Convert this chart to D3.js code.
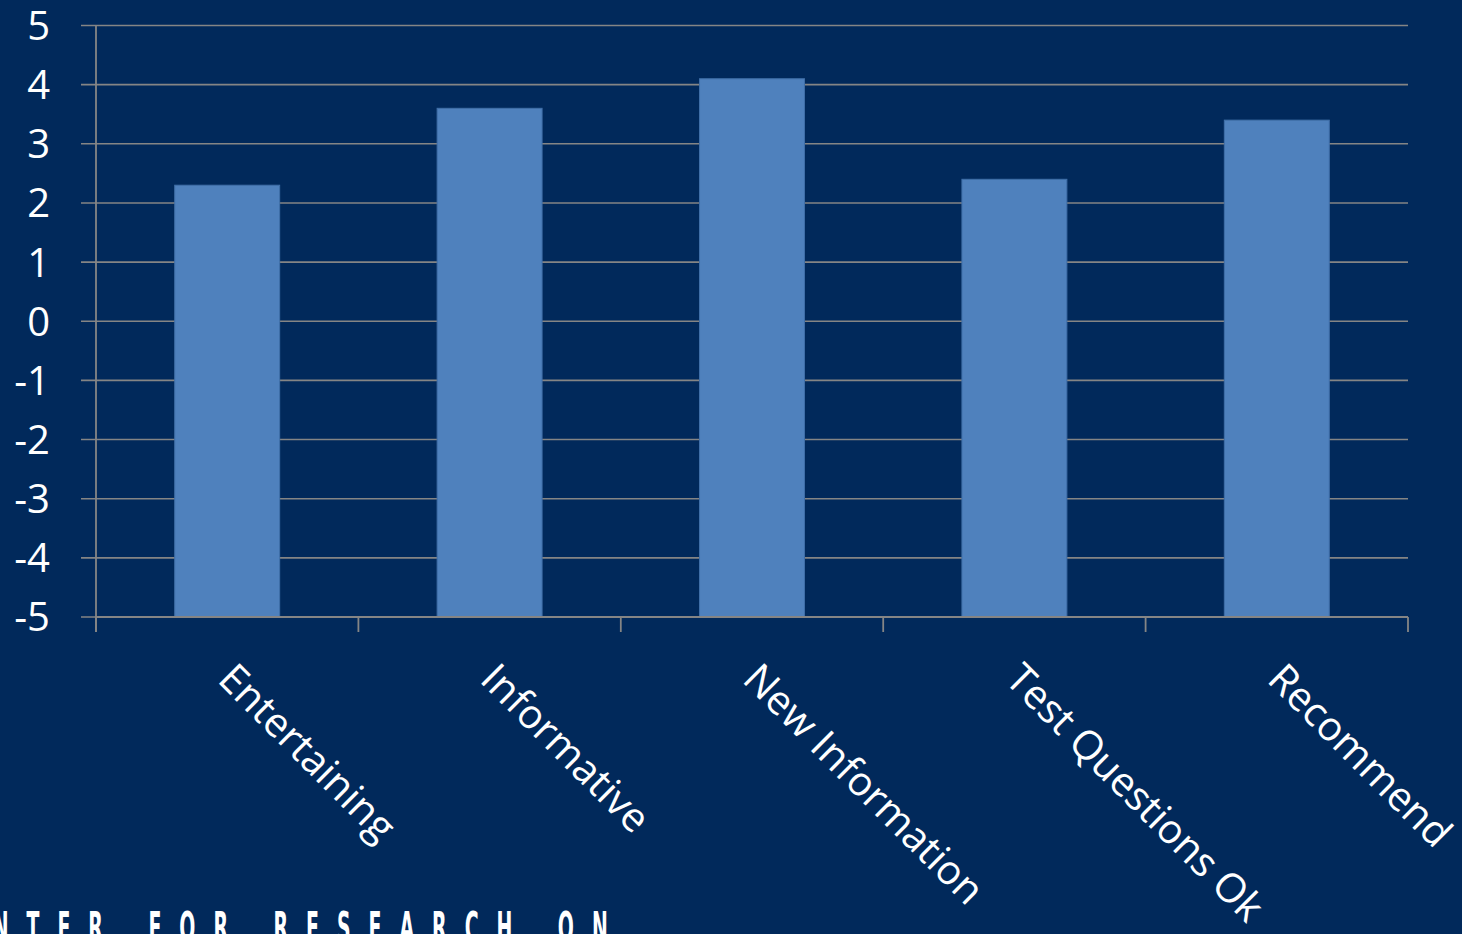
<!DOCTYPE html>
<html>
<head>
<meta charset="utf-8">
<script src="https://cdn.jsdelivr.net/npm/d3@7"></script>
<style>
  html, body { margin: 0; padding: 0; background: #01295b; overflow: hidden; }
  svg { display: block; }
</style>
</head>
<body>
<svg id="chart" width="1462" height="934"></svg>
<script>
const categories = ["Entertaining", "Informative", "New Information", "Test Questions Ok", "Recommend"];
const values = [2.3, 3.6, 4.1, 2.4, 3.4];
const yTicks = [5, 4, 3, 2, 1, 0, -1, -2, -3, -4, -5];
const footerText = "CENTER FOR RESEARCH ON";

const svg = d3.select("#chart");
const W = 1462, H = 934;
const m = { left: 96, right: 54, top: 25.5, bottom: 317 };

svg.append("rect").attr("width", W).attr("height", H).attr("fill", "#01295b");

const x = d3.scaleBand().domain(categories).range([m.left, W - m.right]).paddingInner(0.6).paddingOuter(0.3);
const y = d3.scaleLinear().domain([-5, 5]).range([H - m.bottom, m.top]);

// gridlines
svg.append("g").selectAll("line").data(yTicks).join("line")
  .attr("x1", m.left - 15).attr("x2", W - m.right)
  .attr("y1", d => y(d)).attr("y2", d => y(d))
  .attr("stroke", "#858585").attr("stroke-width", 1.6);

// bars from the bottom of the axis
svg.append("g").selectAll("rect").data(values).join("rect")
  .attr("x", (d, i) => x(categories[i]))
  .attr("width", x.bandwidth())
  .attr("y", d => y(d))
  .attr("height", d => y(-5) - y(d))
  .attr("fill", "#4f81bd")
  .attr("stroke", "#406fa8").attr("stroke-width", 1);

// x axis line & ticks
const xAxisG = svg.append("g");
xAxisG.append("line").attr("x1", m.left).attr("x2", W - m.right)
  .attr("y1", y(-5)).attr("y2", y(-5)).attr("stroke", "#858585").attr("stroke-width", 1.8);
const bounds = d3.range(categories.length + 1);
xAxisG.selectAll("line.tk").data(bounds).join("line").attr("class", "tk")
  .attr("x1", i => m.left + i * (W - m.right - m.left) / categories.length)
  .attr("x2", i => m.left + i * (W - m.right - m.left) / categories.length)
  .attr("y1", y(-5)).attr("y2", y(-5) + 15)
  .attr("stroke", "#858585").attr("stroke-width", 1.8);

// y axis line
svg.append("line").attr("x1", m.left).attr("x2", m.left)
  .attr("y1", y(5)).attr("y2", y(-5) + 15)
  .attr("stroke", "#858585").attr("stroke-width", 1.8);

// y labels
svg.append("g").selectAll("text").data(yTicks).join("text")
  .attr("x", 50).attr("y", d => y(d))
  .attr("dy", "0.36em")
  .attr("text-anchor", "end")
  .attr("fill", "#ffffff")
  .attr("font-family", "'Open Sans', sans-serif")
  .attr("font-size", 40)
  .text(d => d);

// x labels rotated
svg.append("g").selectAll("text").data(categories).join("text")
  .attr("transform", d => `translate(${x(d) + x.bandwidth() / 2 - 11}, 681) rotate(45)`)
  .attr("fill", "#ffffff")
  .attr("font-family", "'Open Sans', sans-serif")
  .attr("font-size", 40.5)
  .text(d => d);

// footer text (partially cut off)
svg.append("text")
  .attr("transform", "scale(0.5,1)")
  .attr("x", -70 / 0.5).attr("y", 942)
  .attr("fill", "#ffffff")
  .attr("font-family", "'DejaVu Sans Condensed', 'DejaVu Sans', sans-serif")
  .attr("font-weight", "bold")
  .attr("font-size", 42)
  .attr("letter-spacing", 36)
  .attr("word-spacing", 6)
  .text(footerText);
</script>
</body>
</html>
